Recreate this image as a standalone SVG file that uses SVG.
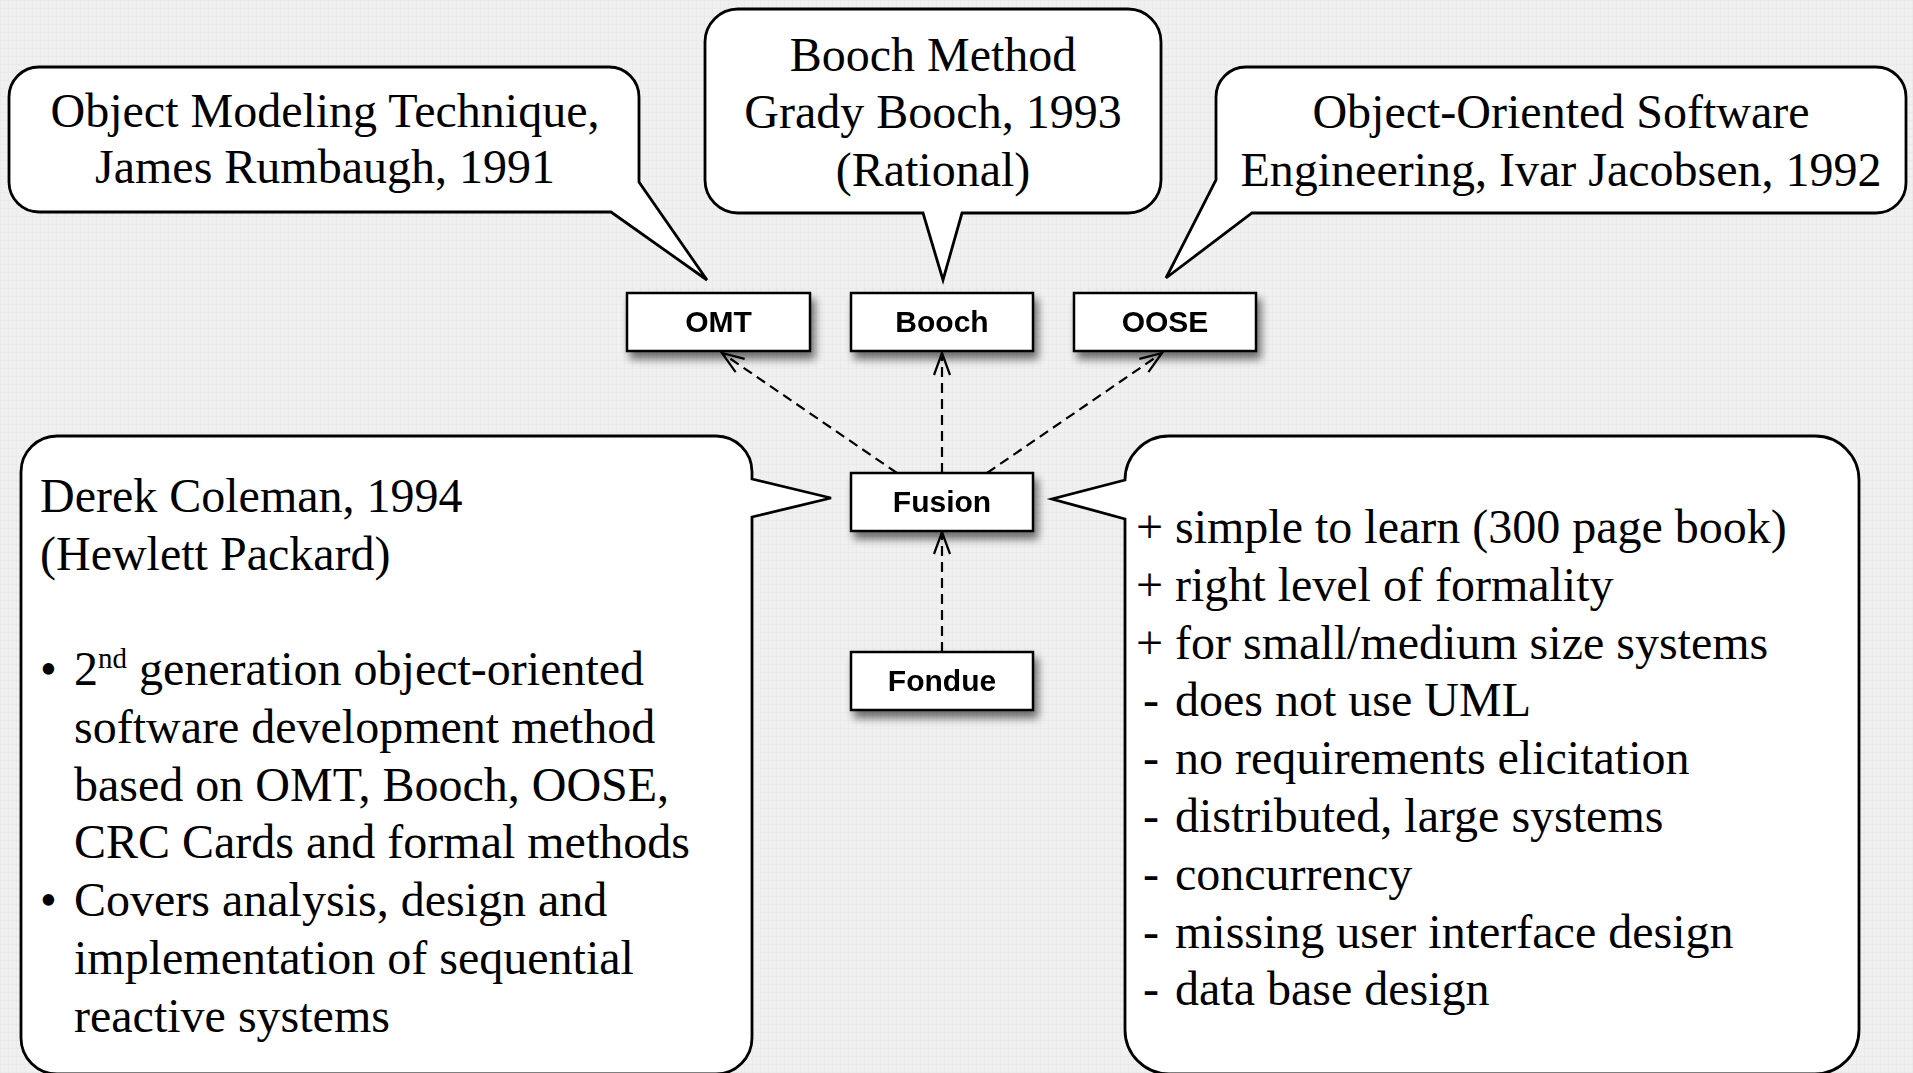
<svg xmlns="http://www.w3.org/2000/svg" width="1913" height="1073" viewBox="0 0 1913 1073">
  <defs>
    <pattern id="grid" width="8" height="8" patternUnits="userSpaceOnUse">
      <rect width="8" height="8" fill="#f0f0f0"/>
      <path d="M 8 0 L 0 0 0 8" fill="none" stroke="#e6e6e6" stroke-width="1"/>
    </pattern>
    <filter id="shadow" x="-20%" y="-30%" width="150%" height="180%">
      <feGaussianBlur in="SourceAlpha" stdDeviation="4"/>
      <feOffset dx="4" dy="7" result="b"/>
      <feComponentTransfer><feFuncA type="linear" slope="0.55"/></feComponentTransfer>
      <feMerge><feMergeNode/><feMergeNode in="SourceGraphic"/></feMerge>
    </filter>
    <marker id="open" markerUnits="userSpaceOnUse" viewBox="-26 -12 30 24" refX="0" refY="0" markerWidth="30" markerHeight="24" orient="auto" overflow="visible">
      <path d="M -22 -8 L 0 0 L -22 8" fill="none" stroke="#000" stroke-width="2.2"/>
    </marker>
    <style>
      .bubble { fill: #fff; stroke: #000; stroke-width: 2.8; stroke-linejoin: miter; }
      .serif { font-family: "Liberation Serif", "Times New Roman", serif; font-size: 48px; fill: #000; }
      .mid { text-anchor: middle; }
      .box { fill: #fff; stroke: #000; stroke-width: 2.5; }
      .lbl { font-family: "Liberation Sans", Arial, sans-serif; font-weight: bold; font-size: 30px; text-anchor: middle; fill: #000; }
      .dep { fill: none; stroke: #000; stroke-width: 2.2; stroke-dasharray: 10 6; marker-end: url(#open); }
    </style>
  </defs>

  <rect width="1913" height="1073" fill="url(#grid)"/>

  <g id="bubble-omt">
    <path class="bubble" d="M 39,67 H 609 A 30 30 0 0 1 639,97 V 182 L 707,280 L 611,212 H 39 A 30 30 0 0 1 9,182 V 97 A 30 30 0 0 1 39,67 Z"/>
    <text class="serif mid" x="325" y="127">Object Modeling Technique,</text>
    <text class="serif mid" x="325" y="183">James Rumbaugh, 1991</text>
  </g>

  <g id="bubble-booch">
    <path class="bubble" d="M 738,9 H 1128 A 33 33 0 0 1 1161,42 V 180 A 33 33 0 0 1 1128,213 H 962 L 943,280 L 923,213 H 738 A 33 33 0 0 1 705,180 V 42 A 33 33 0 0 1 738,9 Z"/>
    <text class="serif mid" x="933" y="71">Booch Method</text>
    <text class="serif mid" x="933" y="128">Grady Booch, 1993</text>
    <text class="serif mid" x="933" y="186">(Rational)</text>
  </g>

  <g id="bubble-oose">
    <path class="bubble" d="M 1246,67 H 1876 A 30 30 0 0 1 1906,97 V 183 A 30 30 0 0 1 1876,213 H 1252 L 1166,278 L 1216,180 V 97 A 30 30 0 0 1 1246,67 Z"/>
    <text class="serif mid" x="1561" y="128">Object-Oriented Software</text>
    <text class="serif mid" x="1561" y="186">Engineering, Ivar Jacobsen, 1992</text>
  </g>

  <g id="bubble-coleman">
    <path class="bubble" d="M 57,436 H 716 A 36 36 0 0 1 752,472 V 479 L 831,498 L 752,517 V 1038 A 36 36 0 0 1 716,1074 H 57 A 36 36 0 0 1 21,1038 V 472 A 36 36 0 0 1 57,436 Z"/>
    <text class="serif" x="40" y="512">Derek Coleman, 1994</text>
    <text class="serif" x="40" y="570">(Hewlett Packard)</text>
    <text class="serif" x="40" y="685">•</text>
    <text class="serif" x="74" y="685">2<tspan font-size="29" dy="-17">nd</tspan><tspan dy="17"> generation object-oriented</tspan></text>
    <text class="serif" x="74" y="743">software development method</text>
    <text class="serif" x="74" y="801">based on OMT, Booch, OOSE,</text>
    <text class="serif" x="74" y="858">CRC Cards and formal methods</text>
    <text class="serif" x="40" y="916">•</text>
    <text class="serif" x="74" y="916">Covers analysis, design and</text>
    <text class="serif" x="74" y="974">implementation of sequential</text>
    <text class="serif" x="74" y="1032">reactive systems</text>
  </g>

  <g id="bubble-evaluation">
    <path class="bubble" d="M 1169,436 H 1815 A 44 44 0 0 1 1859,480 V 1030 A 44 44 0 0 1 1815,1074 H 1169 A 44 44 0 0 1 1125,1030 V 519 L 1052,499 L 1125,480 A 44 44 0 0 1 1169,436 Z"/>
    <text class="serif" x="1136" y="543">+<tspan x="1175">simple to learn (300 page book)</tspan></text>
    <text class="serif" x="1136" y="601">+<tspan x="1175">right level of formality</tspan></text>
    <text class="serif" x="1136" y="659">+<tspan x="1175">for small/medium size systems</tspan></text>
    <text class="serif" x="1143" y="716">-<tspan x="1175">does not use UML</tspan></text>
    <text class="serif" x="1143" y="774">-<tspan x="1175">no requirements elicitation</tspan></text>
    <text class="serif" x="1143" y="832">-<tspan x="1175">distributed, large systems</tspan></text>
    <text class="serif" x="1143" y="890">-<tspan x="1175">concurrency</tspan></text>
    <text class="serif" x="1143" y="948">-<tspan x="1175">missing user interface design</tspan></text>
    <text class="serif" x="1143" y="1005">-<tspan x="1175">data base design</tspan></text>
  </g>

  <g id="connectors">
    <line class="dep" x1="897" y1="473" x2="722" y2="353"/>
    <line class="dep" x1="942" y1="473" x2="942" y2="353"/>
    <line class="dep" x1="987" y1="473" x2="1162" y2="353"/>
    <line class="dep" x1="942" y1="652" x2="942" y2="532"/>
  </g>

  <g id="node-omt" filter="url(#shadow)">
    <rect class="box" x="627" y="293" width="183" height="58"/>
    <text class="lbl" x="718.5" y="332">OMT</text>
  </g>
  <g id="node-booch" filter="url(#shadow)">
    <rect class="box" x="851" y="293" width="182" height="58"/>
    <text class="lbl" x="942" y="332">Booch</text>
  </g>
  <g id="node-oose" filter="url(#shadow)">
    <rect class="box" x="1074" y="293" width="182" height="58"/>
    <text class="lbl" x="1165" y="332">OOSE</text>
  </g>
  <g id="node-fusion" filter="url(#shadow)">
    <rect class="box" x="851" y="473" width="182" height="58"/>
    <text class="lbl" x="942" y="512">Fusion</text>
  </g>
  <g id="node-fondue" filter="url(#shadow)">
    <rect class="box" x="851" y="652" width="182" height="58"/>
    <text class="lbl" x="942" y="691">Fondue</text>
  </g>
</svg>
